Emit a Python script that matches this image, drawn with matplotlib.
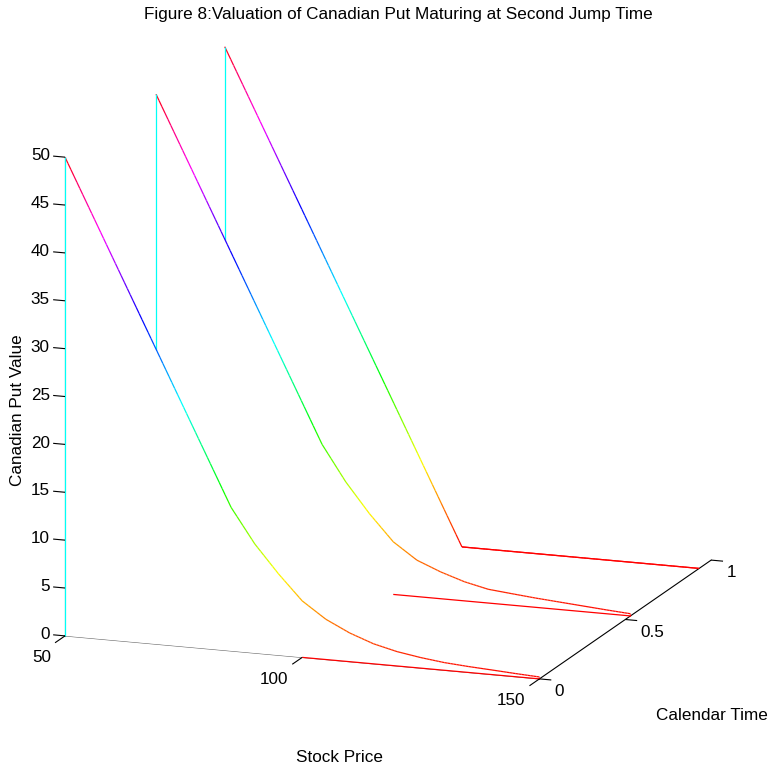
import numpy as np
import matplotlib
matplotlib.use('Agg')
import matplotlib.pyplot as plt
from mpl_toolkits.mplot3d import proj3d
from mpl_toolkits.mplot3d.art3d import Poly3DCollection, Line3DCollection

plt.rcParams['font.family'] = ['Liberation Sans', 'DejaVu Sans']
plt.rcParams['font.size'] = 12.3

# stock price grid and calendar times of the three curves
stock = [50, 55, 60, 65, 70, 75, 80, 85, 90, 95, 100,
         105, 110, 115, 120, 125, 130, 135, 140, 145, 150]
times = [0.0, 0.53, 0.93]

# Canadian put values
value_t0 = [50, 45, 40, 35, 30, 25, 20, 15, 11.4, 8.5, 5.9,
            4.2, 3.0, 2.1, 1.5, 1.1, 0.8, 0.62, 0.48, 0.33, 0.2]
value_t1 = [50, 45, 40, 35, 30, 25, 20, 15, 11.3, 8.2, 5.5,
            3.8, 2.8, 2.0, 1.44, 1.2, 0.97, 0.78, 0.59, 0.4, 0.23]
value_t2 = [50, 45, 40, 35, 30, 25, 20, 15, 10, 5, 0,
            0, 0, 0, 0, 0, 0, 0, 0, 0, 0]
values = [value_t0, value_t1, value_t2]

# the base edge of each waterfall strip only shows from here on
floor_start = 100

x_ticks = [50, 100, 150]
y_ticks = [0, 0.5, 1]
y_labels = ['0', '0.5', '1']
z_ticks = list(range(0, 55, 5))

cmap = plt.cm.hsv
norm = plt.Normalize(0, 50)

fig = plt.figure(figsize=(7.7, 7.71), dpi=100)
ax = fig.add_axes([-0.0095, 0.022, 1.0, 0.9987], projection='3d')
ax.computed_zorder = False
ax.set_proj_type('ortho')
ax.view_init(elev=14.5, azim=-70.1)
ax.set_box_aspect((1, 1, 0.98), zoom=1.0945)

# waterfall: draw from the back curve to the front one
order = 1
for t, v in reversed(list(zip(times, values))):
    s = np.array(stock, dtype=float)
    z = np.array(v, dtype=float)
    verts = [list(zip(s, [t] * len(s), z)) + [(s[-1], t, 0), (s[0], t, 0)]]
    poly = Poly3DCollection(verts, facecolor='white', edgecolor='none')
    poly.set_zorder(order)
    ax.add_collection3d(poly)

    segs, cols = [], []
    for i in range(len(s) - 1):
        # split each segment only to shade the colour along it
        f = np.linspace(0, 1, 9)
        xs = s[i] + f * (s[i + 1] - s[i])
        zs = z[i] + f * (z[i + 1] - z[i])
        for j in range(len(f) - 1):
            segs.append([(xs[j], t, zs[j]), (xs[j + 1], t, zs[j + 1])])
            cols.append(cmap(norm((zs[j] + zs[j + 1]) / 2)))
    # strip edges: two verticals and the base
    for a, b in [((s[0], t, 0), (s[0], t, z[0])),
                 ((s[-1], t, 0), (s[-1], t, z[-1])),
                 ((floor_start, t, 0), (s[-1], t, 0))]:
        segs.append([a, b])
        cols.append(cmap(norm((a[2] + b[2]) / 2)))
    lines = Line3DCollection(segs, colors=cols, linewidths=0.9)
    lines.set_zorder(order + 1)
    ax.add_collection3d(lines)
    order += 2

ax.set_xlim(50, 150, view_margin=0)
ax.set_ylim(0, 1, view_margin=0)
ax.set_zlim(0, 50, view_margin=0)
ax.set_xticks([])
ax.set_yticks([])
ax.set_zticks([])
ax.grid(False)

# z axis line on the front left edge
ax.zaxis.set_ticks_position('lower')
for axis, col in ((ax.xaxis, '0.4'), (ax.yaxis, 'black'), (ax.zaxis, '0.4')):
    axis.set_pane_color((1, 1, 1, 0))
    axis.pane.set_edgecolor((1, 1, 1, 0))
    axis.line.set_color(col)
    axis.line.set_linewidth(0.8)

# MATLAB style ticks, all pointing out of the box
tick_segs = []
for xv in x_ticks:
    tick_segs.append([(xv, 0, 0), (xv, -0.058, 0)])
for yv in y_ticks:
    tick_segs.append([(150, yv, 0), (152.5, yv, 0)])
for zv in z_ticks:
    tick_segs.append([(50, 0, zv), (47.5, 0, zv)])
ticks = Line3DCollection(tick_segs, colors='black', linewidths=0.8)
ticks.set_zorder(order)
ax.add_collection3d(ticks)

# tick labels: project the 3D anchor and write plain 2D text there
proj = ax.get_proj()


def label3d(x, y, z, s, **kw):
    px, py, _ = proj3d.proj_transform(x, y, z, proj)
    ax.text2D(px, py, s, transform=ax.transData, **kw)


for xv in x_ticks:
    label3d(xv, -0.081, -1.29, str(xv), ha='right', va='center')
for yv, lab in zip(y_ticks, y_labels):
    label3d(153.2, yv, -1.2, lab, ha='left', va='center')
for zv in z_ticks:
    label3d(46.8, 0, zv, str(zv), ha='right', va='center')

fig.text(0.517, 1 - 15 / 771, 'Figure 8:Valuation of Canadian Put Maturing at Second Jump Time',
         ha='center', va='center')
fig.text(340 / 770, 1 - 757 / 771, 'Stock Price', ha='center', va='center')
fig.text(712 / 770, 1 - 716 / 771, 'Calendar Time', ha='center', va='center')
fig.text(18 / 770, 1 - 410 / 771, 'Canadian Put Value', ha='center', va='center', rotation=90)

fig.savefig('out.png', dpi=100)
